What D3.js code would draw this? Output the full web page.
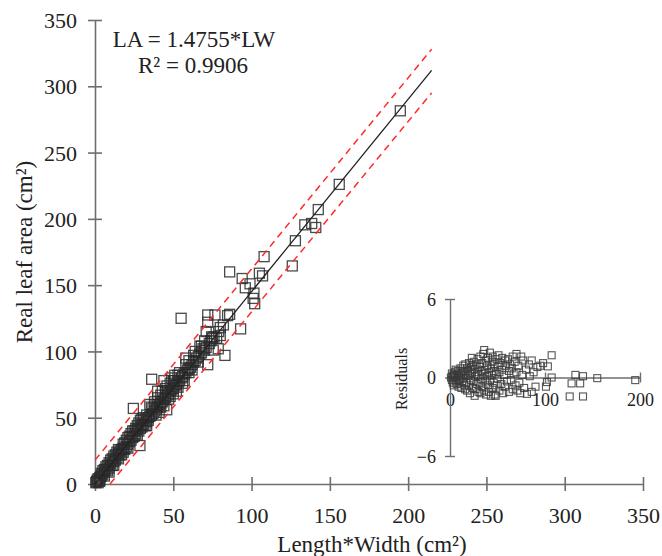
<!DOCTYPE html>
<html>
<head>
<meta charset="utf-8">
<script src="https://cdn.jsdelivr.net/npm/d3@7"></script>
<style>
  body { margin: 0; background: #fff; }
  text { font-family: "Liberation Serif", "Times New Roman", serif; fill: #222; }
</style>
</head>
<body>
<div id="vis-holder"></div>
<script>
// Main chart data: LW (length*width) and real leaf area
const mainPoints = [
  [0.5,1],[1,2],[1.5,3],[2,1],[2,4],[3,5],[3,3],[4,6],[4,8],[5,7],[5,10],[6,9],[6,6],[7,11],[7,13],
  [8,10],[8,14],[9,12],[9,16],[10,15],[10,18],[11,14],[11,19],[12,17],[12,21],[13,18],[13,22],[14,20],
  [14,24],[15,19],[15,23],[16,25],[16,22],[17,26],[17,22],[18,27],[18,30],[19,26],[19,31],[20,28],
  [20,33],[21,30],[21,35],[22,32],[22,36],[23,33],[23,38],[24,35],[24.5,57],[25,36],[25,40],[26,38],
  [26,42],[27,37],[27,44],[28,40],[28,46],[28.7,29],[29,42],[29,48],[30,43],[30,45],[31,45],[31,50],
  [32,44],[32,49],[33,47],[33,52],[34,50],[34,48],[35,51],[35,60],[36,52],[36.2,79],[37,53],[37,57],
  [38,55],[38,62],[39,56],[39,60],[40,58],[40,65],[41,60],[41,54],[42,61],[42,67],[43,62],[43,70],
  [44,64],[44,78],[45,65],[45,72],[45.8,56],[46,67],[46,74],[47,68],[47,64],[48,70],[48,76],[49,71],
  [49,80],[50,72],[50,78],[51,74],[51,82],[52,75],[52,70],[53,77],[53,82],[54,78],[55,80],[55,125],
  [56,81],[56,76],[57,83],[58,84],[58,90],[59,86],[60,87],[60,93],[61,88],[62,90],[63,92],[64,93],
  [64,100],[65,95],[66,96],[67,98],[68,99],[68,104],[70,101],[70,108],[71,103],[71,115],[72,90],
  [72,122],[72,127.5],[73,106],[74,108],[74.5,111],[75,110],[75.5,101],[76,111],[76.6,127.5],
  [77.7,110],[78.7,102],[79,115],[80,112],[80,118],[82,120],[83,97],[84.7,127],[86,160],[86,128],
  [93,117],[94,155],[96,148],[99,151],[101,140],[101.5,144],[102,136],[105,159],[107,157],
  [108,171.5],[126,164.5],[128,183.5],[134,195.5],[138.4,196.5],[141,193.5],[142.6,207],
  [156,226],[195,281.5],
  [3,2],[6,11],[9,9],[12,14],[15,26],[18,24],[21,27],[24,40],[27,41],[30,49],[33,44],[36,58],
  [39,52],[42,58],[45,69],[48,66],[51,78],[54,84],[57,78],[60,84],[63,97],[66,92],[69,102],
  [40,70],[44,59],[50,68],[53,73],[58,95],[62,86],[67,104]
];

// Fitted line and dashed band ends, [LW, LA]
const fitLine = [[0, 0], [215, 312]];
const upperBand = [[0, 18], [215, 328]];
const lowerBand = [[9.6, 0], [215, 295]];

const mainTicks = [0, 50, 100, 150, 200, 250, 300, 350];

// Inset: residuals against LW
const residPoints = [
  [1,0],[2,-0.2],[2,0.3],[3,-0.4],[3,0.1],[4,0.2],[4,-0.6],[5,0],[5,0.4],[6,-0.3],[6,0.6],[7,-0.5],
  [7,0.2],[8,0.5],[8,-0.2],[9,-0.7],[9,0.3],[10,0.1],[10,-0.4],[11,0.7],[11,-0.1],[12,0.3],[12,-0.8],
  [13,0.5],[13,-0.3],[14,0.9],[14,0],[15,-0.6],[15,0.4],[16,1.0],[16,-0.9],[17,0.2],[17,-0.4],[18,0.7],
  [18,-1.0],[19,0.1],[19,0.5],[20,-0.6],[20,1.1],[21,0.3],[21,-1.2],[22,0.8],[22,-0.2],[23,1.5],
  [23,0.4],[24,-0.8],[24,0.9],[25,-0.3],[25,1.2],[26,-1.4],[26,0.6],[27,0.1],[27,-0.9],[28,1.0],
  [28,-0.5],[29,0.4],[29,1.4],[30,-1.1],[30,0.2],[31,0.8],[31,-0.4],[32,1.6],[32,-1.2],[33,0.5],
  [33,-0.1],[34,1.1],[34,-0.7],[35,0.3],[35,1.8],[36,2.1],[36,-1.0],[37,0.6],[37,-0.3],[38,1.3],
  [38,-1.3],[39,0.9],[39,0.1],[40,-0.6],[40,1.5],[41,0.4],[41,-1.1],[42,1.9],[42,-0.2],[43,0.7],
  [43,-1.4],[44,1.2],[44,0.2],[45,-0.8],[45,1.6],[46,0.5],[46,-0.4],[47,1.0],[47,-1.3],[48,0.3],
  [48,-1.4],[49,1.4],[49,-0.6],[50,0.8],[50,-0.1],[51,1.7],[52,-1.0],[52,0.4],[53,1.1],[54,-0.5],
  [55,0.6],[55,1.5],[56,-1.2],[57,0.2],[58,1.3],[58,-0.7],[59,0.9],[60,-0.3],[61,1.4],[62,0.5],
  [62,-1.1],[63,1.0],[64,-0.2],[65,0.7],[66,1.6],[66,-0.9],[67,0.3],[68,1.2],[69,-0.6],[70,1.8],
  [70,0.4],[71,-1.0],[72,0.9],[73,-0.4],[74,-1.2],[75,1.6],[76,0.2],[77,1.3],[78,-0.8],[80,0.6],
  [81,-1.25],[83,1.0],[84,0.1],[86,-1.1],[86,1.3],[88,0.4],[90,-0.7],[92,0.8],[95,0.9],[98,1.1],
  [101,-0.7],[102,-0.35],[103,0.85],[107,1.7],[107,0],[126,-1.45],[128,-0.45],[132,0.2],
  [137,-0.45],[140,-1.45],[140,0.1],[155,-0.05],[195,-0.2]
];
const residXTicks = [0, 100, 200];
const residYTicks = [-6, 0, 6];

const width = 662;
const height = 556;
const axisColor = "#6e6e6e";
const serif = "'Liberation Serif', 'Times New Roman', serif";

const svg = d3.select("#vis-holder")
              .append("svg")
              .attr("width", width)
              .attr("height", height);

// Main scales
const x = d3.scaleLinear().domain([0, 350]).range([95, 643]);
const y = d3.scaleLinear().domain([0, 350]).range([484, 20]);

// X axis, ticks crossing the line
svg.append("g")
   .attr("transform", `translate(0,${y(0)})`)
   .call(d3.axisBottom(x).tickValues(mainTicks).tickSizeOuter(0))
   .attr("font-family", serif)
   .call((g) => {
     g.select(".domain").attr("stroke", axisColor).attr("stroke-width", 1.6);
     g.selectAll(".tick line").attr("y1", -7).attr("y2", 7)
      .attr("stroke", axisColor).attr("stroke-width", 1.6);
     g.selectAll(".tick text").attr("y", 31).attr("dy", "0.35em")
      .attr("font-size", "22px").attr("fill", "#222");
   });

// Y axis
svg.append("g")
   .attr("transform", `translate(${x(0)},0)`)
   .call(d3.axisLeft(y).tickValues(mainTicks).tickSizeOuter(0))
   .attr("font-family", serif)
   .call((g) => {
     g.select(".domain").attr("stroke", axisColor).attr("stroke-width", 1.6);
     g.selectAll(".tick line").attr("x1", -7).attr("x2", 7)
      .attr("stroke", axisColor).attr("stroke-width", 1.6);
     g.selectAll(".tick text").attr("x", -18).attr("dy", "0.35em")
      .attr("font-size", "22px").attr("fill", "#222");
   });

// Axis titles
svg.append("text")
   .attr("x", 372).attr("y", 552)
   .attr("text-anchor", "middle")
   .attr("font-size", "23px")
   .text("Length*Width (cm²)");

svg.append("text")
   .attr("transform", "translate(32,252) rotate(-90)")
   .attr("text-anchor", "middle")
   .attr("font-size", "23px")
   .text("Real leaf area (cm²)");

// Points
const sq = 10;
svg.append("g").selectAll("rect")
   .data(mainPoints)
   .enter()
   .append("rect")
   .attr("x", (d) => x(d[0]) - sq / 2)
   .attr("y", (d) => y(d[1]) - sq / 2)
   .attr("width", sq)
   .attr("height", sq)
   .attr("fill", "none")
   .attr("stroke", "#2a2a2a")
   .attr("stroke-width", 1.3)
   .attr("stroke-opacity", 0.85);

// Fit line and band
const line = d3.line().x((d) => x(d[0])).y((d) => y(d[1]));

svg.append("path")
   .attr("d", line(fitLine))
   .attr("fill", "none")
   .attr("stroke", "#222")
   .attr("stroke-width", 1.3);

[upperBand, lowerBand].forEach((band) => {
  svg.append("path")
     .attr("d", line(band))
     .attr("fill", "none")
     .attr("stroke", "#ff2a2a")
     .attr("stroke-width", 1.5)
     .attr("stroke-dasharray", "7,5");
});

// Equation
svg.append("text")
   .attr("x", 194).attr("y", 47)
   .attr("text-anchor", "middle")
   .attr("font-size", "23px")
   .text("LA = 1.4755*LW");

svg.append("text")
   .attr("x", 193).attr("y", 73)
   .attr("text-anchor", "middle")
   .attr("font-size", "23px")
   .text("R² = 0.9906");

// Inset residual plot
const rx = d3.scaleLinear().domain([0, 200]).range([450, 640]);
const ry = d3.scaleLinear().domain([-6, 6]).range([456, 299]);

svg.append("g")
   .attr("transform", `translate(0,${ry(0)})`)
   .call(d3.axisBottom(rx).tickValues(residXTicks).tickSizeOuter(0))
   .attr("font-family", serif)
   .call((g) => {
     g.select(".domain").attr("stroke", axisColor).attr("stroke-width", 1.4);
     g.selectAll(".tick line").attr("y1", -5).attr("y2", 5)
      .attr("stroke", axisColor).attr("stroke-width", 1.4);
     g.selectAll(".tick text").attr("y", 22).attr("dy", "0.35em")
      .attr("font-size", "18px").attr("fill", "#222");
   });

svg.append("g")
   .attr("transform", `translate(${rx(0)},0)`)
   .call(d3.axisLeft(ry).tickValues(residYTicks).tickSizeOuter(0))
   .attr("font-family", serif)
   .call((g) => {
     g.select(".domain").attr("stroke", axisColor).attr("stroke-width", 1.4);
     g.selectAll(".tick line").attr("x1", -5).attr("x2", 5)
      .attr("stroke", axisColor).attr("stroke-width", 1.4);
     g.selectAll(".tick text").attr("x", -14).attr("dy", "0.35em")
      .attr("font-size", "18px").attr("fill", "#222");
   });

svg.append("text")
   .attr("transform", "translate(407,379) rotate(-90)")
   .attr("text-anchor", "middle")
   .attr("font-size", "16px")
   .text("Residuals");

const rs = 7;
svg.append("g").selectAll("rect")
   .data(residPoints)
   .enter()
   .append("rect")
   .attr("x", (d) => rx(d[0]) - rs / 2)
   .attr("y", (d) => ry(d[1]) - rs / 2)
   .attr("width", rs)
   .attr("height", rs)
   .attr("fill", "none")
   .attr("stroke", "#3a3a3a")
   .attr("stroke-width", 1.1)
   .attr("stroke-opacity", 0.85);
</script>
</body>
</html>
